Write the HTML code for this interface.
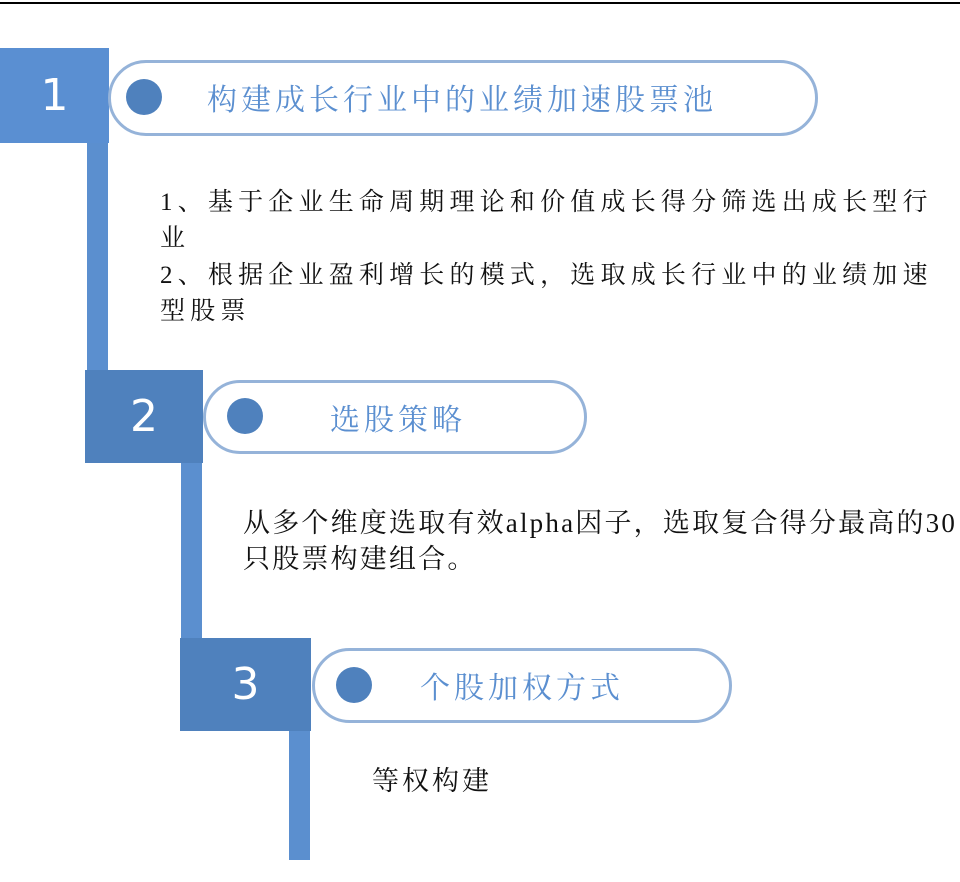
<!DOCTYPE html>
<html><head><meta charset="utf-8"><style>
body{margin:0;width:960px;height:882px;background:#fff;position:relative;overflow:hidden;font-family:"Liberation Serif","Noto Serif CJK SC",serif}
div{position:absolute}
.box{background:#4f81bd;color:#fff;font-family:"DejaVu Sans","Liberation Sans",sans-serif;font-size:44px;display:flex;align-items:center;justify-content:center;font-weight:normal}
.bar{background:#5b8fcf}
.pill{border:3px solid #95b3d9;border-radius:40px;box-sizing:border-box;background:#fff}
.dot{width:36px;height:36px;border-radius:50%;background:#4f81bd}
.t{color:#5b8fd0;font-size:30px;letter-spacing:4px;white-space:nowrap;line-height:1;font-family:"Noto Serif CJK SC","Noto Sans CJK SC",serif}
.b{color:#111;font-size:25px;letter-spacing:5.2px;white-space:nowrap;line-height:1;font-family:"Liberation Serif","Noto Serif CJK SC","Noto Sans CJK SC",serif}
.c{color:#111;font-size:27px;letter-spacing:2.2px;white-space:nowrap;line-height:1;font-family:"Liberation Serif","Noto Serif CJK SC","Noto Sans CJK SC",serif}
</style></head><body>
<div style="left:0;top:2px;width:960px;height:2px;background:#000"></div>
<div class="bar" style="left:87px;top:140px;width:21px;height:232px"></div>
<div class="bar" style="left:181px;top:460px;width:21px;height:180px"></div>
<div class="bar" style="left:289px;top:728px;width:21px;height:132px"></div>
<div class="box" style="left:0;top:48px;width:109px;height:95px;background:#5a8fd2">1</div>
<div class="box" style="left:85px;top:370px;width:118px;height:93px">2</div>
<div class="box" style="left:180px;top:638px;width:131px;height:93px">3</div>
<div class="pill" style="left:108px;top:60px;width:710px;height:76px"></div>
<div class="dot" style="left:126px;top:79px"></div>
<div class="t" style="left:207px;top:82px">构建成长行业中的业绩加速股票池</div>
<div class="pill" style="left:203px;top:380px;width:384px;height:74px"></div>
<div class="dot" style="left:227px;top:398px"></div>
<div class="t" style="left:330px;top:402px">选股策略</div>
<div class="pill" style="left:312px;top:648px;width:420px;height:75px"></div>
<div class="dot" style="left:336px;top:667px"></div>
<div class="t" style="left:420px;top:670px">个股加权方式</div>
<div class="b" style="left:160px;top:190px">1、基于企业生命周期理论和价值成长得分筛选出成长型行</div>
<div class="b" style="left:160px;top:226px">业</div>
<div class="b" style="left:160px;top:263px">2、根据企业盈利增长的模式，选取成长行业中的业绩加速</div>
<div class="b" style="left:160px;top:299px">型股票</div>
<div class="c" style="left:243px;top:510px">从多个维度选取有效alpha因子，选取复合得分最高的30</div>
<div class="c" style="left:243px;top:546px">只股票构建组合。</div>
<div class="c" style="left:372px;top:768px;letter-spacing:3px">等权构建</div>
</body></html>
